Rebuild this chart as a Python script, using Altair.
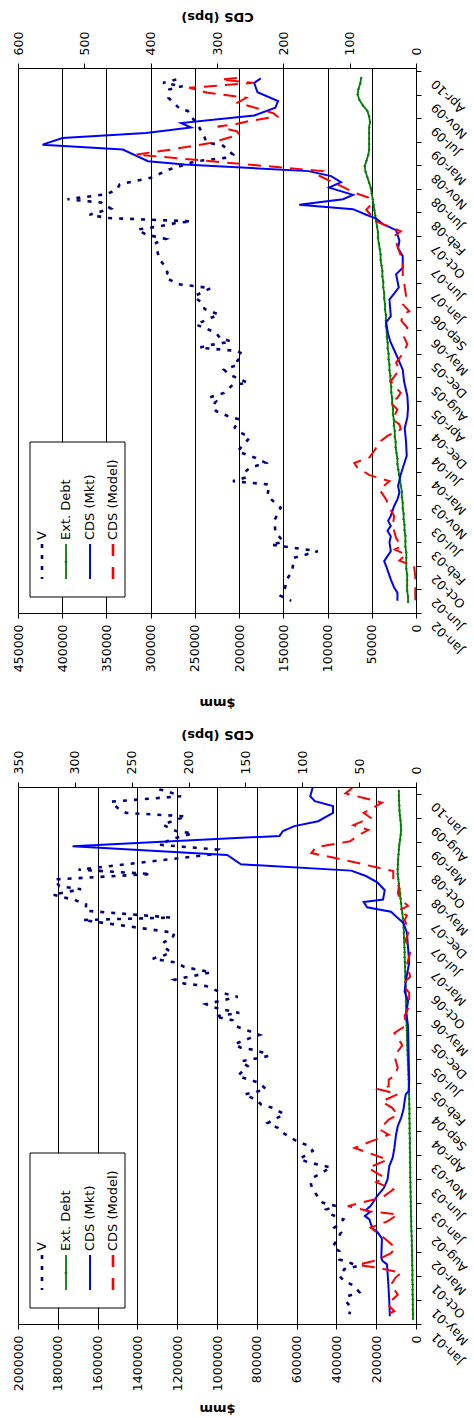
import altair as alt
import pandas as pd

FONT = "DejaVu Sans"
NAVY, GREEN, BLUE, RED = "#000080", "#008000", "#0000FF", "#FF0000"

# ---------------- upper panel (Jan-02 .. Apr-10), month offsets from 2002-01-31 ----------------
U_START = "2002-01-31"
U_DOMAIN = ["2002-01-31", "2010-04-26"]
U_TICKS = ["2002-01-31", "2002-06-10", "2002-10-18", "2003-02-25", "2003-07-05", "2003-11-12",
           "2004-03-21", "2004-07-29", "2004-12-06", "2005-04-15", "2005-08-23", "2005-12-31",
           "2006-05-10", "2006-09-17", "2007-01-25", "2007-06-04", "2007-10-12", "2008-02-19",
           "2008-06-28", "2008-11-05", "2009-03-15", "2009-07-23", "2009-11-30", "2010-04-09"]
U_USD_TICKS = [0, 50000, 100000, 150000, 200000, 250000, 300000, 350000, 400000, 450000]
U_CDS_TICKS = [0, 100, 200, 300, 400, 500, 600]

U_V_t = [2.2, 3.1, 4.6, 6.1, 7.6, 10.0, 11.2, 12.4, 12.9, 14.7, 16.8, 19.1, 21.2, 23.3, 23.9, 24.5,
         25.2, 26.3, 27.2, 28.1, 29.3, 30.5, 31.8, 32.7, 33.6, 35.1, 35.7, 36.6, 37.5, 38.4, 39.1,
         39.9, 41.4, 41.7, 42.6, 43.2, 44.1, 45.1, 45.7, 46.9, 47.5, 48.1, 48.6, 49.2, 49.9, 50.8,
         52.3, 54.1, 55.1, 56.2, 57.4, 58.9, 59.6, 60.8, 61.7, 62.9, 64.1, 65.3, 67.1, 67.8, 68.6,
         69.5, 70.1, 70.7, 71.0, 71.6, 72.2, 73.3, 74.4, 75.0, 75.3, 75.9, 76.8, 77.7, 78.9, 80.4,
         81.9, 82.5, 83.1, 84.7, 85.3, 86.2, 88.0, 89.1, 91.0, 91.4, 93.4, 94.9, 95.5, 96.1, 96.7]
U_V_k = [141, 153, 148, 146, 140, 138, 111, 164, 150, 159, 160, 153, 168, 166, 207, 194,
         196, 188, 170, 181, 202, 195, 188, 198, 205, 200, 213, 226, 230, 226, 233,
         217, 207, 190, 202, 211, 217, 200, 202, 196, 202, 245, 232, 209, 222, 226,
         249, 223, 239, 242, 251, 232, 269, 283, 281, 284, 290, 292, 294, 283, 305,
         315, 290, 271, 254, 349, 369, 345, 356, 394, 380, 350, 338, 335, 300, 279,
         249, 216, 207, 218, 237, 239, 245, 250, 258, 267, 280, 279, 264, 286, 271]

U_D_t = list(range(2, 98))
U_D_k = [9, 9, 10, 10, 10, 10, 11, 11, 11, 11,
         12, 12, 12, 13, 13, 14, 14, 15, 15, 16,
         16, 17, 18, 19, 20, 21, 21, 22, 23, 23,
         24, 24, 25, 25, 26, 26, 27, 27, 28, 28,
         29, 29, 30, 30, 31, 31, 32, 32, 33, 33,
         34, 34, 34, 35, 35, 36, 36, 37, 37, 38,
         38, 39, 40, 40, 41, 42, 43, 43, 44, 45,
         46, 47, 48, 49, 50, 51, 53, 55, 57, 58,
         56, 54, 53, 53, 53, 53, 53, 52, 53, 55,
         60, 64, 66, 65, 63, 62]

U_M_t = [2.2, 3.7, 4.6, 6.1, 8.5, 9.4, 10.3, 11.2, 12.8, 13.9, 14.9, 15.8, 16.7, 17.6, 19.4, 20.6,
         21.8, 23.0, 25.1, 27.0, 28.5, 31.0, 33.5, 35.5, 37.2, 39.3, 42.0, 44.1, 46.9, 49.0, 50.5,
         52.7, 53.8, 56.8, 59.0, 61.4, 62.6, 64.7, 66.1, 67.5, 69.4, 70.5, 71.5, 72.2, 73.2, 74.0,
         75.0, 75.8, 77.1, 78.1, 79.2, 80.1, 81.3, 81.9, 84.0, 84.9, 86.1, 87.0, 88.0, 88.8, 90.2,
         91.6, 92.8, 94.4, 96.1, 96.9]
U_M_bps = [28, 28, 33, 38, 45, 48, 43, 38, 40, 38, 43, 38, 42, 38, 33, 28,
           25, 27, 23, 18, 14, 15, 17, 13, 12, 13, 18, 20, 30, 38, 42,
           45, 38, 40, 26, 30, 20, 20, 27, 25, 30, 50, 60, 75, 95, 176,
           110, 95, 131, 113, 128, 162, 349, 404, 442, 563, 533, 407, 339, 354, 244,
           212, 208, 239, 244, 234]

U_P_t = [2.2, 6.6, 8.5, 9.5, 10.6, 11.5, 12.1, 13.6, 15.8, 17.6, 19.1, 20.6, 22.4, 23.9, 25.0,
         26.3, 27.2, 28.2, 29.4, 30.3, 31.2, 32.1, 33.3, 34.2, 35.1, 36.9, 38.1, 39.0, 39.9, 42.0,
         44.1, 45.4, 47.0, 48.7, 50.0, 51.7, 53.0, 54.1, 54.7, 56.0, 57.5, 59.9, 61.1, 63.8, 66.5,
         68.3, 69.2, 70.4, 71.0, 73.1, 74.0, 75.3, 76.2, 77.5, 79.5, 80.1, 83.1, 84.0, 85.2, 85.8,
         86.7, 87.3, 88.2, 88.5, 89.2, 90.0, 90.6, 91.5, 92.5, 93.4, 94.3, 95.2, 96.1, 96.7, 97.0]
U_P_bps = [1, 1, 3, 25, 15, 32, 22, 30, 35, 33, 40, 45, 55, 40, 70,
           88, 93, 70, 63, 58, 53, 43, 23, 25, 35, 28, 38, 28, 23, 38,
           25, 30, 20, 13, 18, 13, 22, 20, 10, 20, 15, 18, 20, 20, 28,
           33, 23, 48, 60, 75, 68, 72, 93, 115, 150, 141, 422, 370, 310, 293,
           266, 270, 299, 276, 251, 209, 215, 240, 269, 256, 314, 342, 246, 294, 270]

# ---------------- lower panel (Jan-01 .. Jan-10), month offsets from 2001-01-01 ----------------
L_START = "2001-01-01"
L_DOMAIN = ["2001-01-01", "2010-02-25"]
L_TICKS = ["2001-01-01", "2001-05-31", "2001-10-28", "2002-03-27", "2002-08-24", "2003-01-21",
           "2003-06-20", "2003-11-17", "2004-04-15", "2004-09-12", "2005-02-09", "2005-07-09",
           "2005-12-06", "2006-05-05", "2006-10-02", "2007-03-01", "2007-07-29", "2007-12-26",
           "2008-05-24", "2008-10-21", "2009-03-20", "2009-08-17", "2010-01-14"]
L_USD_TICKS = [0, 200000, 400000, 600000, 800000, 1000000, 1200000, 1400000, 1600000, 1800000, 2000000]
L_CDS_TICKS = [0, 50, 100, 150, 200, 250, 300, 350]

L_V_t = [2.0, 3.3, 4.7, 5.7, 6.5, 7.8, 8.8, 9.8, 11.2, 11.9, 13.2, 14.9, 15.7, 16.9, 18.7, 19.7,
         20.4, 21.4, 22.4, 23.4, 24.1, 24.8, 26.1, 27.5, 28.6, 29.9, 31.0, 32.0, 33.0, 33.7, 35.4,
         36.4, 37.4, 39.1, 40.1, 41.1, 42.9, 44.2, 44.9, 45.9, 46.9, 48.0, 49.3, 50.7, 52.7, 53.7,
         54.8, 55.5, 56.1, 56.5, 57.2, 58.4, 59.1, 60.9, 62.1, 62.9, 63.6, 64.7, 65.4, 66.9, 67.4,
         68.1, 69.1, 69.6, 70.4, 71.5, 71.9, 73.0, 73.9, 74.7, 75.4, 76.0, 77.3, 78.1, 79.0, 80.0,
         82.6, 83.1, 84.5, 85.8, 86.7, 87.8, 88.9, 89.5, 90.9, 92.0, 92.9, 96.0, 97.0, 98.0, 99.2,
         100.3, 100.8, 102.1, 103.8, 104.5, 105.5, 106.8, 107.9, 108.9, 109.3]
L_V_k = [335, 327, 352, 343, 285, 310, 360, 385, 360, 290, 385, 385, 419, 402, 377, 410,
         385, 365, 427, 452, 402, 469, 494, 519, 528, 519, 470, 427, 536, 586, 519,
         536, 600, 670, 695, 745, 662, 720, 779, 804, 863, 754, 787, 896, 846, 880,
         740, 771, 821, 880, 913, 838, 787, 905, 921, 1013, 888, 1013, 1055, 896, 947,
         997, 1055, 1164, 1214, 1080, 1030, 1164, 1206, 1323, 1265, 1231, 1273, 1265, 1223, 1214,
         1675, 1231, 1660, 1658, 1716, 1825, 1683, 1792, 1817, 1331, 1696, 1030, 997, 1290, 1223,
         1122, 1206, 1273, 1156, 1457, 1499, 1532, 1181, 1248, 1290]

L_D_t = list(range(1, 110))
L_D_k = [15, 15, 16, 16, 16, 17, 17, 17, 18, 18,
         18, 19, 19, 20, 20, 21, 21, 22, 23, 24,
         24, 25, 25, 26, 26, 27, 27, 28, 28, 29,
         29, 29, 30, 30, 30, 31, 31, 31, 32, 32,
         32, 33, 33, 33, 34, 34, 35, 35, 36, 37,
         38, 39, 40, 41, 42, 43, 44, 45, 45, 46,
         47, 48, 48, 49, 50, 50, 51, 52, 52, 53,
         54, 54, 55, 56, 57, 57, 58, 59, 60, 61,
         62, 64, 66, 69, 72, 75, 78, 80, 83, 86,
         89, 92, 92, 91, 90, 88, 86, 84, 80, 77,
         75, 76, 78, 81, 83, 84, 85, 86, 86]

L_M_t = [1.6, 4.7, 8.8, 12.2, 12.9, 13.6, 17.5, 18.8, 19.5, 20.3, 21.4, 22.1, 22.8, 23.3, 24.1,
         26.2, 27.9, 29.6, 32.3, 34.0, 36.0, 38.8, 40.5, 42.2, 43.9, 45.6, 47.0, 47.6, 50.0, 55.0,
         60.9, 63.6, 66.0, 68.0, 70.0, 73.9, 77.0, 80.0, 82.0, 83.2, 84.3, 85.2, 86.3, 86.8, 88.7,
         90.3, 91.6, 92.7, 94.0, 95.9, 97.7, 99.8, 100.8, 101.8, 102.8, 104.5, 105.9, 106.9, 107.9,
         109.6]
L_M_bps = [23, 23.5, 24.5, 25.5, 29.5, 30.5, 30, 34, 38, 39.5, 41, 45, 41, 44, 40,
           34, 28, 25, 23.5, 20.5, 19, 17.5, 16, 13, 11, 10, 9, 6.5, 6, 6.5,
           7, 8.5, 7, 10, 9, 6, 7, 8, 11, 17, 22, 43, 46, 29, 27.5,
           34, 44, 57, 154, 166, 302, 120, 117, 107, 86, 73, 73, 89, 93,
           91]

L_P_t = [1.6, 2.6, 4.0, 6.0, 8.0, 9.5, 10.5, 11.5, 12.1, 13.0, 14.5, 15.6, 17.6, 19.7, 21.0,
         22.4, 23.0, 24.1, 25.0, 25.8, 27.5, 29.0, 30.0, 31.9, 33.6, 36.0, 37.4, 38.7, 39.8, 41.8,
         42.8, 44.2, 45.5, 47.0, 48.0, 48.6, 50.0, 50.7, 52.4, 54.8, 57.0, 59.5, 61.0, 63.0, 65.0,
         67.7, 69.5, 71.0, 73.5, 76.0, 78.5, 80.5, 82.6, 83.5, 84.5, 85.5, 86.5, 88.0, 89.5, 90.5,
         92.6, 94.5, 96.3, 97.5, 98.7, 100.0, 101.0, 102.0, 103.5, 104.5, 105.5, 106.6, 107.5,
         108.5, 109.6]
L_P_bps = [29, 19, 25, 16, 22, 18, 13, 34, 51, 35, 22, 18, 28, 40, 25,
           16, 40, 60, 45, 30, 20, 35, 28, 42, 25, 54, 39, 24, 32, 24,
           16, 21, 30, 16, 33, 24, 24, 19, 16, 19, 12, 19, 9, 10, 6,
           6, 12, 5, 8, 5, 9, 6, 10, 8, 15, 7, 12, 16, 15, 20,
           20, 56, 92, 88, 58, 50, 42, 55, 40, 46, 38, 30, 45,
           62, 56]

LEGEND_LABELS = ["V", "Ext. Debt", "CDS (Mkt)", "CDS (Model)"]


def frame(start, months, values, scale=1.0):
    base = pd.Timestamp(start)
    return pd.DataFrame({
        "date": [base + pd.Timedelta(days=m * 30.4375) for m in months],
        "value": [v * scale for v in values],
    })


def dt(s):
    t = pd.Timestamp(s)
    return alt.DateTime(year=t.year, month=t.month, date=t.day)


def panel(start, domain, ticks, height, usd_ticks, cds_ticks, usd_title_y, cds_title_y, V, D, M, P):
    yenc = alt.Y("date:T",
                 scale=alt.Scale(domain=[dt(domain[0]), dt(domain[1])]),
                 axis=alt.Axis(orient="right", values=[dt(t) for t in ticks], format="%b-%y",
                               labelAngle=225, labelAlign="right", labelBaseline="middle",
                               labelPadding=12, labelOffset=10, labelOverlap=False,
                               labelFontSize=12.5, labelFont=FONT, labelColor="black",
                               tickSize=5, tickColor="black", domainColor="black",
                               grid=False, title=None))
    usd_scale = alt.Scale(domain=[0, usd_ticks[-1]], reverse=True, nice=False)
    cds_scale = alt.Scale(domain=[0, cds_ticks[-1]], reverse=True, nice=False)
    usd_axis = alt.Axis(orient="bottom", values=usd_ticks, format="d", title="$mm",
                        titleAngle=180, titleBaseline="middle", titleY=usd_title_y,
                        titleFont=FONT, titleFontSize=13,
                        titleFontWeight="bold", titleColor="black",
                        labelAngle=270, labelAlign="right", labelBaseline="middle",
                        labelPadding=6, labelFlush=False, labelOverlap=False,
                        labelFont=FONT, labelFontSize=12.5, labelColor="black",
                        tickSize=5, tickColor="black", domainColor="black",
                        grid=True, gridColor="black", gridWidth=1)
    cds_axis = alt.Axis(orient="top", values=cds_ticks, format="d", title="CDS (bps)",
                        titleAngle=180, titleBaseline="middle", titleY=cds_title_y,
                        titleFont=FONT, titleFontSize=13,
                        titleFontWeight="bold", titleColor="black",
                        labelAngle=270, labelAlign="left", labelBaseline="middle",
                        labelPadding=8, labelFlush=False, labelOverlap=False,
                        labelFont=FONT, labelFontSize=12.5, labelColor="black",
                        tickSize=5, tickColor="black", domainColor="black", grid=False)

    v_layer = alt.Chart(V).mark_line(color=NAVY, strokeWidth=2.6, strokeDash=[4, 7], clip=True).encode(
        x=alt.X("value:Q", scale=usd_scale, axis=usd_axis), y=yenc)
    d_layer = alt.Chart(D).mark_line(
        color=GREEN, strokeWidth=1.8, clip=True,
        point=alt.OverlayMarkDef(filled=True, color=GREEN, size=9, shape="diamond")).encode(
        x=alt.X("value:Q", scale=usd_scale, axis=None), y=yenc)
    m_layer = alt.Chart(M).mark_line(color=BLUE, strokeWidth=2, clip=True).encode(
        x=alt.X("value:Q", scale=cds_scale, axis=cds_axis), y=yenc)
    p_layer = alt.Chart(P).mark_line(color=RED, strokeWidth=2, strokeDash=[13, 8], clip=True).encode(
        x=alt.X("value:Q", scale=cds_scale, axis=None), y=yenc)

    one = pd.DataFrame({"k": [0]})
    box = alt.Chart(one).mark_rect(fill="white", stroke="black", strokeWidth=1).encode(
        x=alt.value(12), x2=alt.value(107), y=alt.value(height - 171), y2=alt.value(height - 16))
    cols = [24, 48, 72, 95]
    styles = [(NAVY, 2.6, [4, 7]), (GREEN, 1.8, None), (BLUE, 2, None), (RED, 2.6, [12, 11])]
    leg = [box]
    for cx, label, (col, w, dash) in zip(cols, LEGEND_LABELS, styles):
        kw = dict(color=col, strokeWidth=w)
        if dash:
            kw["strokeDash"] = dash
        leg.append(alt.Chart(one).mark_rule(**kw).encode(
            x=alt.value(cx), y=alt.value(height - 69), y2=alt.value(height - 34)))
        leg.append(alt.Chart(one).mark_text(text=label, angle=270, align="left", baseline="middle",
                                           font=FONT, fontSize=13, color="black").encode(
            x=alt.value(cx), y=alt.value(height - 73)))
    leg.append(alt.Chart(one).mark_point(filled=True, color=GREEN, size=12, shape="diamond", opacity=1).encode(
        x=alt.value(cols[1]), y=alt.value(height - 51)))

    return alt.layer(v_layer, d_layer, m_layer, p_layer, *leg).resolve_scale(x="independent").properties(
        width=398, height=height)


upper = panel(U_START, U_DOMAIN, U_TICKS, 545, U_USD_TICKS, U_CDS_TICKS, 89, -52,
              frame(U_START, U_V_t, U_V_k, 1000), frame(U_START, U_D_t, U_D_k, 1000),
              frame(U_START, U_M_t, U_M_bps), frame(U_START, U_P_t, U_P_bps))
lower = panel(L_START, L_DOMAIN, L_TICKS, 537, L_USD_TICKS, L_CDS_TICKS, 84, -53,
              frame(L_START, L_V_t, L_V_k, 1000), frame(L_START, L_D_t, L_D_k, 1000),
              frame(L_START, L_M_t, L_M_bps), frame(L_START, L_P_t, L_P_bps))

chart = alt.vconcat(upper, lower, spacing=18).properties(
    padding={"left": 11, "top": 8, "right": 0, "bottom": 4},
    background="white",
).configure_view(stroke=None)

chart.save("out.html", embed_options={"renderer": "svg", "actions": False})
